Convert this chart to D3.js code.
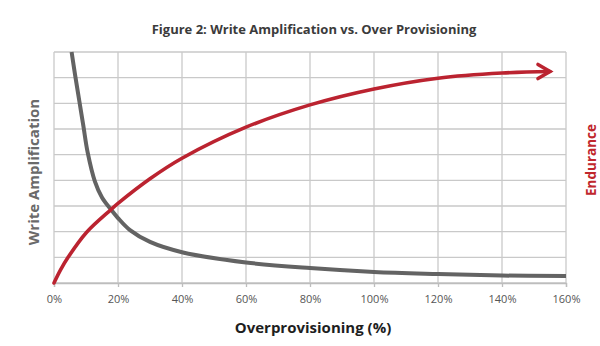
<!DOCTYPE html>
<html>
<head>
<meta charset="utf-8">
<script src="https://cdn.jsdelivr.net/npm/d3@7"></script>
<style>
  html, body { margin: 0; padding: 0; background: #fff; }
  svg { display: block; }
  text { font-family: "Open Sans", "DejaVu Sans", sans-serif; }
</style>
</head>
<body>
<svg id="chart" width="600" height="346"></svg>
<script>
// Over-provisioning (%) tick values on the x axis
const xTicks = [0, 20, 40, 60, 80, 100, 120, 140, 160];

// Write amplification curve: [over-provisioning %, relative value]
const writeAmpOP  = [5.5, 6.6, 7.9, 9.2, 10.5, 12.8, 15, 17.8, 20, 23.75, 30, 40, 60, 80, 100, 120, 140, 160];
const writeAmpVal = [9.0, 8.1, 7.1, 6.1, 5.1, 3.95, 3.33, 2.86, 2.53, 2.06, 1.6, 1.2, 0.8, 0.58, 0.43, 0.35, 0.29, 0.27];

// Endurance curve: [over-provisioning %, relative value]
const enduranceOP  = [0, 2, 4.5, 10.2, 17.8, 20, 30, 40, 60, 80, 100, 120, 140, 155];
const enduranceVal = [0, 0.5, 1.02, 1.98, 2.86, 3.1, 4.06, 4.86, 6.07, 6.94, 7.56, 7.98, 8.18, 8.24];

// Horizontal grid rows (unlabelled relative scale)
const yRows = [0, 1, 2, 3, 4, 5, 6, 7, 8, 9];

const svg = d3.select("#chart");
const margin = { left: 54, right: 34, top: 52, bottom: 63 };
const W = 600, H = 346;

const x = d3.scaleLinear().domain([0, 160]).range([margin.left, W - margin.right]);
const y = d3.scaleLinear().domain([0, 9]).range([H - margin.bottom, margin.top]);

const gridColor = "#c9c9c9";
const grayLine = "#636363";
const redLine = "#bb2330";

// grid
const grid = svg.append("g");
grid.selectAll("line.h").data(yRows).join("line")
  .attr("x1", x(0)).attr("x2", x(160))
  .attr("y1", d => y(d)).attr("y2", d => y(d))
  .attr("stroke", gridColor).attr("stroke-width", 1.3);
grid.selectAll("line.v").data(xTicks).join("line")
  .attr("x1", d => x(d)).attr("x2", d => x(d))
  .attr("y1", y(9)).attr("y2", y(0))
  .attr("stroke", gridColor).attr("stroke-width", 1.3);

// x axis
const xAxis = d3.axisBottom(x)
  .tickValues(xTicks)
  .tickFormat(d => d + "%")
  .tickSize(4)
  .tickPadding(8);
const gx = svg.append("g")
  .attr("transform", `translate(0,${y(0)})`)
  .call(xAxis);
gx.select(".domain").attr("stroke", "#bdbdbd").attr("stroke-width", 1.3);
gx.selectAll(".tick line").attr("stroke", "#bdbdbd").attr("stroke-width", 1.3);
gx.selectAll(".tick text")
  .attr("fill", "#555")
  .style("font-size", "11px")
  .style("font-family", "'Open Sans', sans-serif");

// curves
const line = d3.line()
  .x(d => x(d[0]))
  .y(d => y(d[1]))
  .curve(d3.curveCatmullRom.alpha(0.5));

const writeAmp = writeAmpOP.map((v, i) => [v, writeAmpVal[i]]);
const endurance = enduranceOP.map((v, i) => [v, enduranceVal[i]]);

svg.append("path")
  .datum(writeAmp)
  .attr("d", line)
  .attr("fill", "none")
  .attr("stroke", grayLine)
  .attr("stroke-width", 4)
  .attr("stroke-linecap", "butt");

svg.append("path")
  .datum(endurance)
  .attr("d", line)
  .attr("fill", "none")
  .attr("stroke", redLine)
  .attr("stroke-width", 3.6)
  .attr("stroke-linecap", "round");

// open arrowhead at the end of the endurance curve
const tip = endurance[endurance.length - 1];
const tx = x(tip[0]), ty = y(tip[1]);
svg.append("path")
  .attr("d", `M${tx - 12},${ty - 7} L${tx},${ty} L${tx - 12},${ty + 7}`)
  .attr("fill", "none")
  .attr("stroke", redLine)
  .attr("stroke-width", 3.6)
  .attr("stroke-linejoin", "miter")
  .attr("stroke-linecap", "round");

// titles
svg.append("text")
  .attr("x", 314).attr("y", 34)
  .attr("text-anchor", "middle")
  .attr("fill", "#3b3b3b")
  .style("font-size", "13px")
  .style("font-weight", "bold")
  .text("Figure 2: Write Amplification vs. Over Provisioning");

svg.append("text")
  .attr("x", 313).attr("y", 333)
  .attr("text-anchor", "middle")
  .attr("fill", "#1e1e1e")
  .style("font-size", "15px")
  .style("font-weight", "bold")
  .text("Overprovisioning (%)");

svg.append("text")
  .attr("transform", `translate(39,172) rotate(-90)`)
  .attr("text-anchor", "middle")
  .attr("fill", "#6a6a6a")
  .style("font-size", "15px")
  .style("font-weight", "bold")
  .text("Write Amplification");

svg.append("text")
  .attr("transform", `translate(596,160) rotate(-90)`)
  .attr("text-anchor", "middle")
  .attr("fill", "#c0272d")
  .style("font-size", "13.5px")
  .style("font-weight", "bold")
  .text("Endurance");
</script>
</body>
</html>
